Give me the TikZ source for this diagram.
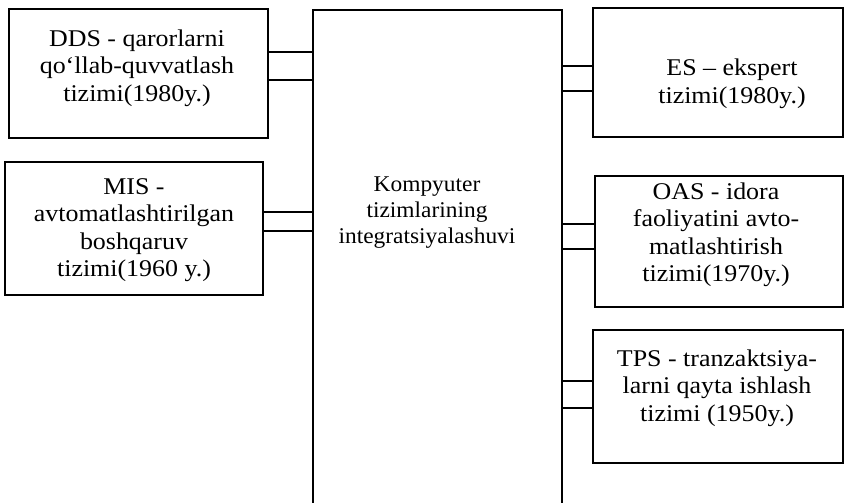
\documentclass[tikz,border=0pt]{standalone}
\usepackage{fontspec}
\setmainfont{Liberation Serif}
\newfontfamily\sidefont{Liberation Serif}[FakeStretch=1.08]
\newfontfamily\centrefont{Liberation Serif}[FakeStretch=1.04]
\begin{document}
\begin{tikzpicture}[x=1pt,y=-1pt,
  box/.style={draw,line width=1.5pt,rectangle,inner sep=0pt},
  txt/.style={align=center,inner sep=0pt,font=\sidefont\fontsize{24}{27.5}\selectfont},
  ctxt/.style={align=center,inner sep=0pt,font=\centrefont\fontsize{22.5}{26}\selectfont},
  conn/.style={line width=1.2pt}]
\useasboundingbox (0,0) rectangle (846,503);
% boxes
\node[box,minimum width=259pt,minimum height=129pt] (dds) at (138.5,73.5) {};
\node[box,minimum width=258pt,minimum height=133pt] (mis) at (134,228.5) {};
\node[box,minimum width=250pt,minimum height=129pt] (es) at (718,72.5) {};
\node[box,minimum width=248pt,minimum height=131pt] (oas) at (719,241.5) {};
\node[box,minimum width=250pt,minimum height=133pt] (tps) at (718,396.5) {};
\node[inner sep=0pt,minimum width=249pt,minimum height=493pt] (cbox) at (437.5,256.5) {};
\draw[line width=1.5pt] (cbox.south west) -- (cbox.north west) -- (cbox.north east) -- (cbox.south east);
% texts
\node[txt] (ddsT) at (137,68) {DDS - qarorlarni\\qo‘llab-quvvatlash\\tizimi(1980y.)};
\node[txt] (misT) at (134,230) {MIS -\\avtomatlashtirilgan\\boshqaruv\\tizimi(1960 y.)};
\node[txt] (esT) at (732,84) {ES – ekspert\\tizimi(1980y.)};
\node[txt] (oasT) at (716,235) {OAS - idora\\faoliyatini avto-\\matlashtirish\\tizimi(1970y.)};
\node[txt] (tpsT) at (717,388) {TPS - tranzaktsiya-\\larni qayta ishlash\\tizimi (1950y.)};
\node[ctxt] (cT) at (427,213) {Kompyuter\\tizimlarining\\integratsiyalashuvi};
% connectors
\draw[conn] ([yshift=21.5pt]dds.east) coordinate (d1) -- (d1 -| cbox.west);
\draw[conn] ([yshift=-6.5pt]dds.east) coordinate (d2) -- (d2 -| cbox.west);
\draw[conn] ([yshift=16.5pt]mis.east) coordinate (m1) -- (m1 -| cbox.west);
\draw[conn] ([yshift=-2.5pt]mis.east) coordinate (m2) -- (m2 -| cbox.west);
\draw[conn] ([yshift=6.5pt]es.west) coordinate (e1) -- (e1 -| cbox.east);
\draw[conn] ([yshift=-18.5pt]es.west) coordinate (e2) -- (e2 -| cbox.east);
\draw[conn] ([yshift=17.5pt]oas.west) coordinate (o1) -- (o1 -| cbox.east);
\draw[conn] ([yshift=-7.5pt]oas.west) coordinate (o2) -- (o2 -| cbox.east);
\draw[conn] ([yshift=15.5pt]tps.west) coordinate (t1) -- (t1 -| cbox.east);
\draw[conn] ([yshift=-11.5pt]tps.west) coordinate (t2) -- (t2 -| cbox.east);
\end{tikzpicture}
\end{document}
